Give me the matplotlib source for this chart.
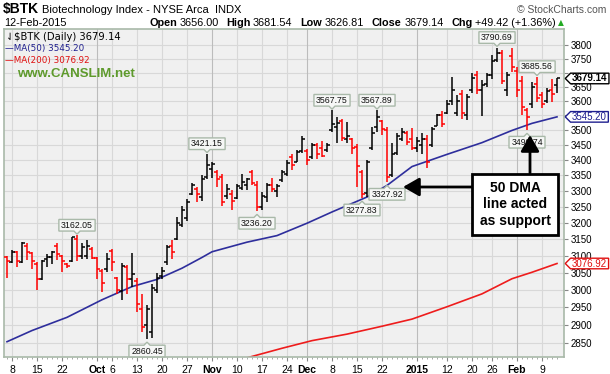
import numpy as np
import pandas as pd
import matplotlib
matplotlib.use('Agg')
import matplotlib.pyplot as plt
from matplotlib.path import Path
from matplotlib.transforms import blended_transform_factory

# ---------------- data ----------------
start_date = '2014-09-05'
end_date = '2015-02-12'
holidays = ['2014-11-27', '2014-12-25', '2015-01-01', '2015-01-19']

opens = [3095, 3082, 3110, 3082, 3130, 3108, 3075, 3030, 3090, 3095,
         3130, 3098, 3075, 3083, 3150, 3100, 3100, 3120, 3093, 3055,
         3060, 3115, 3035, 2995, 3068, 3030, 3025, 2945, 2900, 2880,
         3000, 3040, 3080, 3130, 3150, 3195, 3215, 3290, 3305, 3280,
         3345, 3370, 3360, 3345, 3285, 3290, 3278, 3310, 3320, 3360,
         3320, 3250, 3280, 3320, 3300, 3335, 3355, 3410, 3395, 3430,
         3430, 3410, 3450, 3440, 3435, 3500, 3510, 3530, 3470, 3470,
         3445, 3360, 3295, 3440, 3510, 3530, 3500, 3350, 3425, 3470,
         3490, 3470, 3440, 3450, 3470, 3450, 3515, 3550, 3560, 3600,
         3560, 3625, 3550, 3640, 3690, 3640, 3660, 3690, 3745, 3770,
         3640, 3760, 3705, 3670, 3570, 3590, 3660, 3620, 3600, 3640,
         3656.00]
highs = [3098, 3116, 3113, 3140, 3137, 3111, 3080, 3086, 3104, 3113,
         3138, 3101, 3077, 3158, 3162.05, 3137, 3149, 3125, 3096, 3061,
         3107, 3119, 3038, 3077, 3071, 3108, 3033, 2989, 2957, 3018,
         3048, 3066, 3131, 3149, 3217, 3254, 3276, 3325, 3312, 3350,
         3421.15, 3394, 3367, 3354, 3321, 3302, 3321, 3356, 3342, 3367,
         3333, 3297, 3326, 3342, 3324, 3367, 3399, 3421, 3432, 3480,
         3436, 3458, 3458, 3462, 3456, 3567.75, 3545, 3539, 3528, 3472,
         3452, 3367, 3399, 3511, 3567.89, 3533, 3511, 3456, 3489, 3506,
         3498, 3508, 3477, 3489, 3485, 3511, 3556, 3564, 3603, 3685,
         3620, 3640, 3626, 3697, 3706, 3673, 3697, 3763, 3790.69, 3782,
         3703, 3788, 3720, 3688, 3575, 3667, 3685.56, 3632, 3644, 3677,
         3681.54]
lows = [3033, 3078, 3068, 3078, 3086, 3060, 2999, 3027, 3068, 3074,
        3086, 3053, 3065, 3081, 3084, 3089, 3089, 3089, 3032, 2992,
        3051, 3054, 2988, 2969, 2988, 3009, 2937, 2879, 2860.45, 2862,
        2991, 3031, 3071, 3091, 3148, 3187, 3205, 3286, 3264, 3270,
        3340, 3342, 3313, 3254, 3275, 3239, 3275, 3302, 3302, 3318,
        3236.20, 3241, 3264, 3297, 3281, 3329, 3347, 3367, 3394, 3424,
        3383, 3405, 3405, 3411, 3428, 3494, 3456, 3462, 3456, 3421,
        3313, 3277.83, 3281, 3432, 3494, 3483, 3327.92, 3345, 3416, 3462,
        3449, 3432, 3428, 3421, 3373, 3443, 3513, 3509, 3556, 3585,
        3547, 3539, 3535, 3628, 3626, 3547, 3649, 3677, 3739, 3660,
        3617, 3702, 3613, 3550, 3499.74, 3575, 3597, 3575, 3592, 3597,
        3626.81]
closes = [3085, 3112, 3084, 3138, 3110, 3085, 3030, 3083, 3095, 3110,
          3105, 3085, 3070, 3156, 3098, 3126, 3128, 3092, 3060, 3020,
          3090, 3080, 3000, 3070, 3030, 3045, 2960, 2893, 2945, 3005,
          3035, 3055, 3125, 3110, 3200, 3240, 3265, 3320, 3290, 3340,
          3385, 3388, 3340, 3265, 3305, 3270, 3315, 3330, 3338, 3325,
          3250, 3285, 3318, 3305, 3315, 3360, 3392, 3385, 3428, 3470,
          3400, 3450, 3420, 3415, 3450, 3520, 3525, 3475, 3480, 3440,
          3380, 3290, 3395, 3490, 3545, 3505, 3345, 3420, 3480, 3495,
          3460, 3440, 3465, 3470, 3395, 3505, 3550, 3520, 3590, 3640,
          3600, 3560, 3615, 3680, 3640, 3655, 3690, 3740, 3770, 3670,
          3690, 3720, 3640, 3580, 3545, 3650, 3610, 3590, 3635, 3625,
          3679.14]

# moving averages (trading-day number, value)
ma50_day = [0, 5, 12, 19, 25, 30, 35, 39, 41, 48, 54, 60, 65, 72, 76, 81, 88, 95, 101, 105, 110]
ma50_val = [2853, 2884, 2921, 2971, 3009, 3030, 3063, 3095, 3112, 3141, 3161, 3199,
            3234, 3281, 3318, 3379, 3419, 3458, 3499, 3523, 3545.20]
ma200_day = [48, 55, 61, 68, 75, 81, 88, 95, 101, 105, 110]
ma200_val = [2809, 2835, 2856, 2874, 2896, 2916, 2951, 2988, 3032, 3051, 3076.92]

tick_dates = ['2014-09-08', '2014-09-15', '2014-09-22', '2014-10-01', '2014-10-06',
              '2014-10-13', '2014-10-20', '2014-10-27', '2014-11-03', '2014-11-10',
              '2014-11-17', '2014-11-24', '2014-12-01', '2014-12-08', '2014-12-15',
              '2014-12-22', '2015-01-02', '2015-01-12', '2015-01-20', '2015-01-26',
              '2015-02-02', '2015-02-09']
tick_labels = ['8', '15', '22', 'Oct', '6', '13', '20', '27', 'Nov', '10', '17', '24',
               'Dec', '8', '15', '22', '2015', '12', '20', '26', 'Feb', '9']
month_labels = ['Oct', 'Nov', 'Dec', '2015', 'Feb']
y_ticks = list(range(2850, 3801, 50))
y_hidden = [3550, 3700]   # covered by the value tags in the reference

# annotated highs / lows (trading-day number)
peak_days = [14, 40, 65, 74, 98, 106]
trough_days = [28, 50, 71, 76, 104]

# ---------------- figure ----------------
W, H = 610, 374
fig = plt.figure(figsize=(W / 100, H / 100), dpi=100, facecolor='white')
FONT = 'Liberation Sans'


def fx(x):
    return x / W


def fy(y):
    return 1 - y / H


ax = fig.add_axes([fx(4), 17 / H, 560 / W, 328 / H])
ax.set_facecolor('#f0f0f0')

dates = pd.bdate_range(start_date, end_date)
dates = dates[~dates.isin(pd.to_datetime(holidays))]
xs = np.arange(len(dates))
o = np.array(opens); h = np.array(highs); l = np.array(lows); c = np.array(closes)
cols = np.where(c < o, '#ff0000', '#000000')

ax.set_yscale('log')
ax.set_ylim(2811.2, 3859.2)
ax.set_xlim(-0.6, 111.4)

# grid
for v in y_ticks:
    ax.axhline(v, color='#d8d8d8', lw=0.8, zorder=0)
tick_pos = [int(np.where(dates == pd.Timestamp(d))[0][0]) for d in tick_dates]
for p, lab in zip(tick_pos, tick_labels):
    ax.axvline(p, color='#bcbcbc' if lab in month_labels else '#d8d8d8', lw=0.8, zorder=0)

# OHLC bars
ax.vlines(xs, l, h, colors=cols, lw=1.1, zorder=3)
ax.hlines(o, xs - 0.6, xs, colors=cols, lw=1.1, zorder=3)
ax.hlines(c, xs, xs + 0.6, colors=cols, lw=1.1, zorder=3)

# moving averages
ax.plot(ma50_day, ma50_val, color='#2e2e9c', lw=1.2, zorder=2)
ax.plot(ma200_day, ma200_val, color='#ee1c1c', lw=1.2, zorder=2)

# axes styling
for s in ax.spines.values():
    s.set_color('#a9b9a9')
    s.set_linewidth(1.2)
ax.yaxis.tick_right()
ax.set_yticks(y_ticks)
ax.set_yticklabels(['' if v in y_hidden else str(v) for v in y_ticks])
ax.yaxis.set_minor_locator(matplotlib.ticker.NullLocator())
ax.tick_params(axis='y', which='major', labelsize=7.0, length=3, color='#888888', pad=2)
for t in ax.get_yticklabels():
    t.set_fontfamily(FONT)
ax.set_xticks(tick_pos)
ax.set_xticklabels(tick_labels)
ax.set_xticks(xs, minor=True)
ax.tick_params(axis='x', which='major', labelsize=7.5, length=3, color='#888888', pad=3)
ax.tick_params(axis='x', which='minor', length=1.5, color='#999999')
for t in ax.get_xticklabels():
    t.set_fontfamily(FONT)
    if t.get_text() in month_labels:
        t.set_fontweight('bold')


# custom box shapes
def box_down(x0, y0, w, hh, ms):
    p = 0.25 * ms
    x0 -= p; y0 -= p * 0.6; w += 2 * p; hh += 1.2 * p
    cx = x0 + w / 2; n = 0.35 * ms
    verts = [(x0, y0), (cx - n, y0), (cx, y0 - n), (cx + n, y0), (x0 + w, y0),
             (x0 + w, y0 + hh), (x0, y0 + hh), (x0, y0)]
    return Path(verts, closed=True)


def box_up(x0, y0, w, hh, ms):
    p = 0.25 * ms
    x0 -= p; y0 -= p * 0.6; w += 2 * p; hh += 1.2 * p
    cx = x0 + w / 2; n = 0.35 * ms
    top = y0 + hh
    verts = [(x0, y0), (x0 + w, y0), (x0 + w, top), (cx + n, top), (cx, top + n),
             (cx - n, top), (x0, top), (x0, y0)]
    return Path(verts, closed=True)


def box_left(x0, y0, w, hh, ms):
    p = 0.15 * ms
    x0 -= p; y0 -= p * 0.2; w += 2 * p; hh += 0.4 * p
    verts = [(x0 - hh / 2, y0 + hh / 2), (x0, y0), (x0 + w, y0), (x0 + w, y0 + hh),
             (x0, y0 + hh), (x0 - hh / 2, y0 + hh / 2)]
    return Path(verts, closed=True)


lab_box = dict(fc='#f6f7f6', ec='#a9b9a9', lw=1.0)
for d in peak_days:
    ax.annotate(f'{highs[d]:.2f}', xy=(d, highs[d]), xytext=(0, 10), textcoords='offset pixels',
                ha='center', va='center', fontsize=6.3, family=FONT, color='#111111',
                bbox=dict(boxstyle=box_down, **lab_box), zorder=6)
for d in trough_days:
    ax.annotate(f'{lows[d]:.2f}', xy=(d, lows[d]), xytext=(0, -12), textcoords='offset pixels',
                ha='center', va='center', fontsize=6.3, family=FONT, color='#111111',
                bbox=dict(boxstyle=box_up, **lab_box), zorder=6, annotation_clip=False)

# right-hand value tags
tr = blended_transform_factory(ax.transAxes, ax.transData)
for val, col, wt in [(closes[-1], 'black', 'bold'), (ma50_val[-1], '#1f1f8f', 'normal'),
                     (ma200_val[-1], '#e01010', 'normal')]:
    ax.annotate(f'{val:.2f}', xy=(1, val), xycoords=tr, xytext=(8, 0), textcoords='offset pixels',
                ha='left', va='center', fontsize=7.0, family=FONT, color=col, fontweight=wt,
                bbox=dict(boxstyle=box_left, fc='white', ec=col, lw=1.0), zorder=8,
                annotation_clip=False)

# header text
fig.text(fx(3), fy(9.5), '$BTK', fontsize=10, fontweight='bold', family=FONT, va='center')
fig.text(fx(42), fy(10), 'Biotechnology Index - NYSE Arca  INDX', fontsize=8, family=FONT, va='center')
fig.text(fx(606), fy(10), '\u00a9 StockCharts.com', fontsize=7.5, family=FONT, va='center',
         ha='right', color='#555555')
fig.text(fx(4), fy(23), '12-Feb-2015', fontsize=7.8, family=FONT, va='center')
segs = [(150, 'Open', 'bold'), (180, '3656.00', 'normal'), (226, 'High', 'bold'),
        (253, '3681.54', 'normal'), (300, 'Low', 'bold'), (325, '3626.81', 'normal'),
        (371, 'Close', 'bold'), (405, '3679.14', 'normal'), (451, 'Chg', 'bold'),
        (475, '+49.42 (+1.36%)', 'normal')]
for xp, s, wt in segs:
    fig.text(fx(xp), fy(23), s, fontsize=7.8, family=FONT, fontweight=wt, va='center')
fig.text(fx(561), fy(23), '\u25b2', fontsize=5.5, family='DejaVu Sans', color='#22aa22',
         va='center', ha='center')

# legend inside plot
fig.text(fx(6), fy(37), '\u21c3', fontsize=7, family='DejaVu Sans', va='center')
fig.text(fx(14), fy(37), f'$BTK (Daily) {closes[-1]:.2f}', fontsize=7.2, family='DejaVu Sans', va='center')
fig.text(fx(5), fy(48.5), f'\u2014MA(50) {ma50_val[-1]:.2f}', fontsize=6.3, family='DejaVu Sans',
         va='center', color='#1f1f8f')
fig.text(fx(5), fy(60), f'\u2014MA(200) {ma200_val[-1]:.2f}', fontsize=6.3, family='DejaVu Sans',
         va='center', color='#e01010')
fig.text(fx(17), fy(74), 'www.CANSLIM.net', fontsize=9.5, fontweight='bold', family=FONT,
         va='center', color='#5e9a2c')

# support annotation
fig.text(fx(515), fy(204.5), '50 DMA\nline acted\nas support', fontsize=10, fontweight='bold',
         family=FONT, ha='center', va='center', linespacing=1.2, zorder=10,
         bbox=dict(boxstyle='square,pad=0.55', fc='white', ec='black', lw=2))
arrow = dict(arrowstyle='-|>,head_length=0.7,head_width=0.4', lw=2, color='black',
             mutation_scale=14, shrinkA=0, shrinkB=0)
fig.add_artist(matplotlib.patches.FancyArrowPatch((fx(474), fy(187)), (fx(403), fy(187)),
                                                  transform=fig.transFigure, **arrow))
fig.add_artist(matplotlib.patches.FancyArrowPatch((fx(530), fy(173)), (fx(530), fy(135)),
                                                  transform=fig.transFigure, **arrow))

fig.savefig('out.png', dpi=100, facecolor='white')
